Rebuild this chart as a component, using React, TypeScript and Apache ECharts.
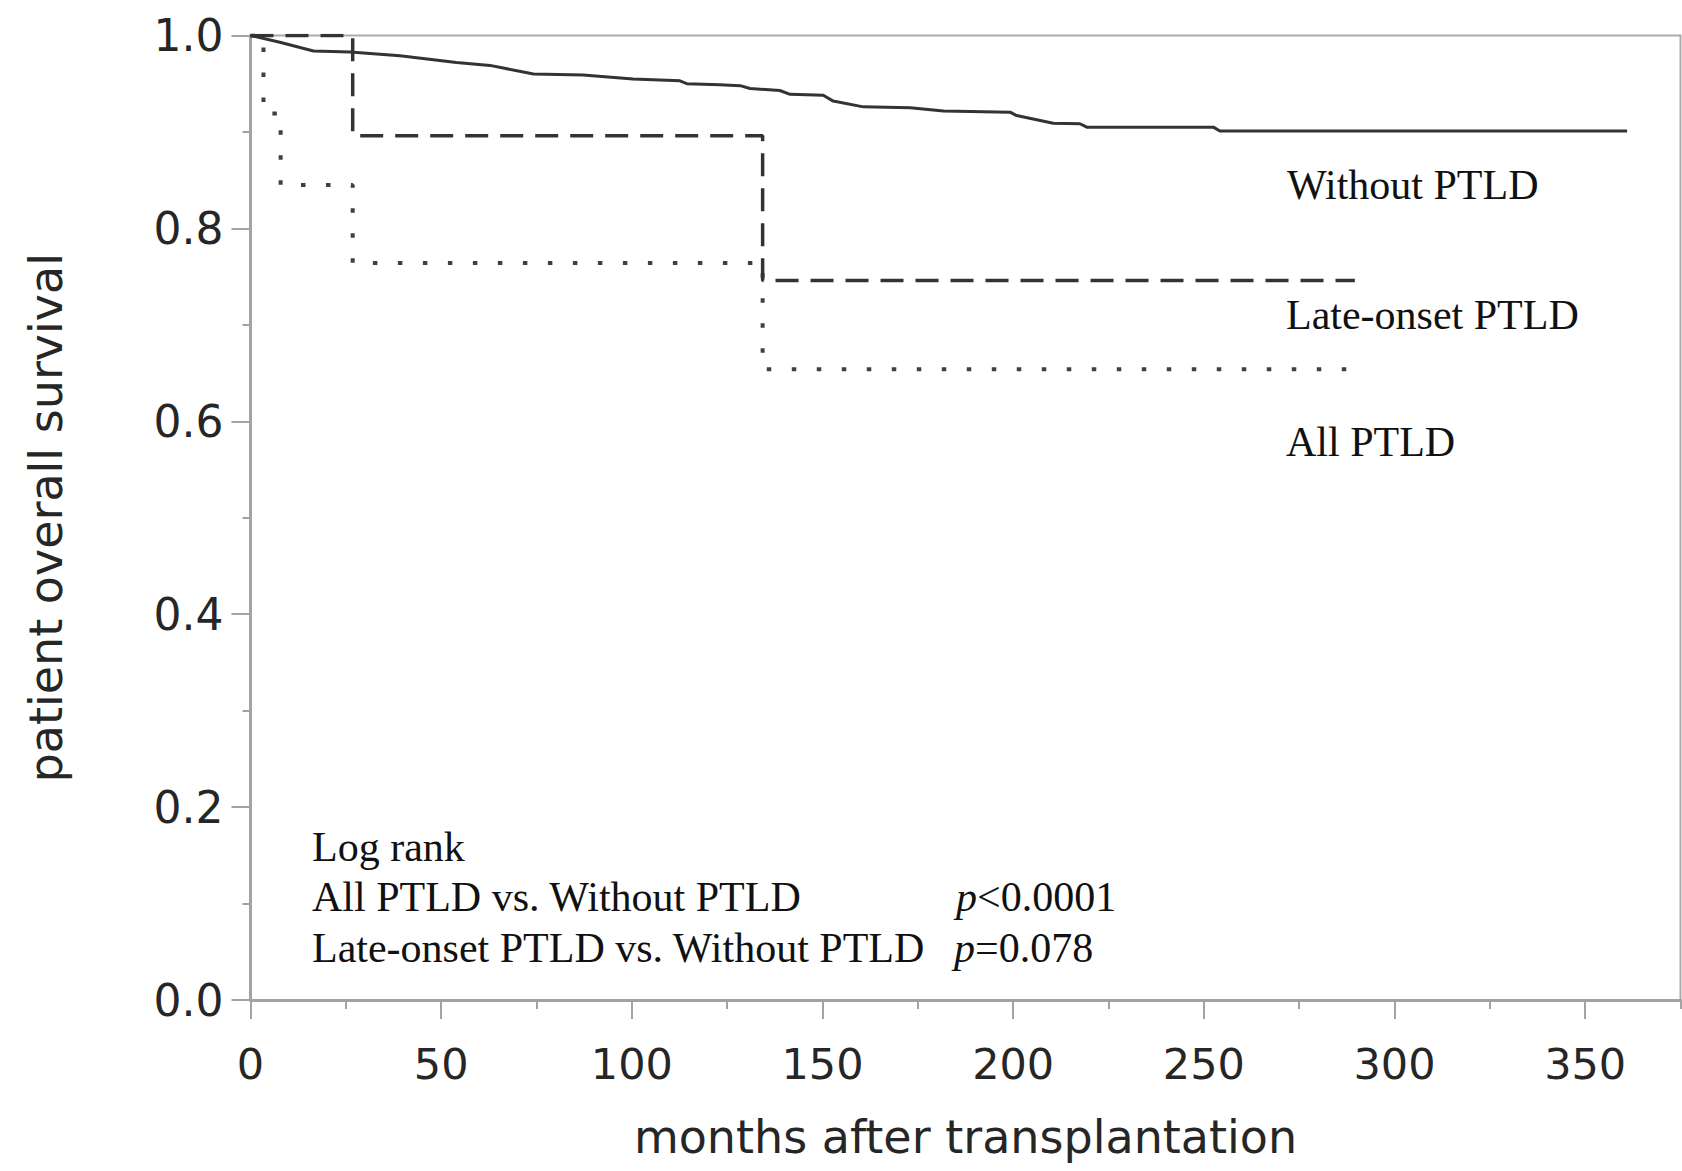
import React, { useEffect, useRef } from "react";
import * as echarts from "echarts";

// ---- data ----
const withoutTimes = [0, 7.7, 16.5, 26.1, 39.2, 54, 62.8, 74.2, 87.2, 100.3, 112.6, 114.4, 123, 128.4, 131, 138.8, 141.5, 150.2, 152.8, 160.7, 173, 181.7, 199.2, 200.9, 210.5, 217.5, 219.3, 252.5, 254.2, 361];
const withoutSurv = [1.0, 0.993, 0.984, 0.983, 0.979, 0.972, 0.969, 0.96, 0.959, 0.955, 0.953, 0.95, 0.949, 0.948, 0.945, 0.943, 0.939, 0.938, 0.932, 0.926, 0.925, 0.9216, 0.9205, 0.917, 0.909, 0.9085, 0.905, 0.905, 0.901, 0.901];

const lateTimes = [0, 26.8, 134.3, 289.6];
const lateSurv = [1.0, 0.896, 0.746, 0.746];

const allTimes = [0, 3.4, 7.9, 26.8, 134.3, 289.6];
const allSurv = [1.0, 0.919, 0.845, 0.764, 0.654, 0.654];

const yTicks = [0, 0.2, 0.4, 0.6, 0.8, 1.0];
const xTicks = [0, 50, 100, 150, 200, 250, 300, 350];

const curveLabels = ["Without PTLD", "Late-onset PTLD", "All PTLD"];
const logRankLines = ["Log rank", "All PTLD vs. Without PTLD", "Late-onset PTLD vs. Without PTLD"];
const pValues = ["<0.0001", "=0.078"];

const zip = (xs: number[], ys: number[]) => xs.map((x, i) => [x, ys[i]]);

const AXIS_GRAY = "#a3a3a3";
const TEXT = "#262626";

export default function App() {
  const ref = useRef<HTMLDivElement>(null);

  useEffect(() => {
    if (!ref.current) return;
    const chart = echarts.init(ref.current, undefined, { renderer: "svg" });
    const L = 250.5;
    const R = 1680.5;
    const pxPerUnit = (R - L) / 375;
    const right350 = 1682 - (L + 350 * pxPerUnit);

    const serif = "Liberation Serif, Times New Roman, serif";
    const option: any = {
      animation: false,
      backgroundColor: "#ffffff",
      grid: [
        { left: L, right: 1682 - R, top: 35.5, bottom: 171, show: true, borderColor: "#ababab", borderWidth: 2, backgroundColor: "transparent" },
        { left: L, right: right350, top: 35.5, bottom: 171, show: false },
      ],
      xAxis: [
        {
          type: "value",
          gridIndex: 0,
          min: 0,
          max: 375,
          interval: 25,
          axisLine: { show: true, lineStyle: { color: AXIS_GRAY, width: 3 } },
          axisTick: { show: true, length: 9, lineStyle: { color: AXIS_GRAY, width: 2 } },
          axisLabel: { show: false },
          splitLine: { show: false },
          name: "months after transplantation",
          nameLocation: "middle",
          nameGap: 114,
          nameTextStyle: { fontFamily: "DejaVu Sans", fontSize: 46, color: TEXT },
        },
        {
          type: "value",
          gridIndex: 1,
          min: xTicks[0],
          max: xTicks[xTicks.length - 1],
          interval: 50,
          axisLine: { show: false },
          axisTick: { show: true, length: 19, lineStyle: { color: AXIS_GRAY, width: 2 } },
          axisLabel: {
            show: true,
            margin: 42,
            fontFamily: "DejaVu Sans",
            fontSize: 43,
            color: TEXT,
            formatter: (v: number) => (xTicks.includes(v) ? String(v) : ""),
          },
          splitLine: { show: false },
        },
      ],
      yAxis: [
        {
          type: "value",
          gridIndex: 0,
          min: yTicks[0],
          max: yTicks[yTicks.length - 1],
          interval: 0.2,
          axisLine: { show: true, lineStyle: { color: AXIS_GRAY, width: 3 } },
          axisTick: { show: true, length: 19, lineStyle: { color: AXIS_GRAY, width: 2 } },
          minorTick: { show: true, splitNumber: 2, length: 8, lineStyle: { color: AXIS_GRAY, width: 2 } },
          axisLabel: {
            margin: 27,
            fontFamily: "DejaVu Sans",
            fontSize: 44,
            color: TEXT,
            formatter: (v: number) => v.toFixed(1),
          },
          splitLine: { show: false },
          name: "patient overall survival",
          nameLocation: "middle",
          nameGap: 182,
          nameTextStyle: { fontFamily: "DejaVu Sans", fontSize: 46, color: TEXT },
        },
        { type: "value", gridIndex: 1, min: 0, max: 1, show: false },
      ],
      series: [
        {
          name: curveLabels[2],
          type: "line",
          xAxisIndex: 0,
          yAxisIndex: 0,
          step: "end",
          data: zip(allTimes, allSurv),
          showSymbol: false,
          symbol: "none",
          lineStyle: { color: "#404040", width: 4, type: [4.5, 20.5], cap: "butt" },
          z: 3,
        },
        {
          name: curveLabels[1],
          type: "line",
          xAxisIndex: 0,
          yAxisIndex: 0,
          step: "end",
          data: zip(lateTimes, lateSurv),
          showSymbol: false,
          symbol: "none",
          lineStyle: { color: "#333333", width: 3.5, type: [23, 12] },
          z: 4,
        },
        {
          name: curveLabels[0],
          type: "line",
          xAxisIndex: 0,
          yAxisIndex: 0,
          data: zip(withoutTimes, withoutSurv),
          showSymbol: false,
          symbol: "none",
          lineStyle: { color: "#333333", width: 3 },
          z: 5,
        },
      ],
      graphic: [
        { type: "text", x: 1287, y: 185, style: { text: curveLabels[0], font: `42px ${serif}`, fill: "#111", textAlign: "left", textVerticalAlign: "middle" } },
        { type: "text", x: 1286, y: 315, style: { text: curveLabels[1], font: `42px ${serif}`, fill: "#111", textAlign: "left", textVerticalAlign: "middle" } },
        { type: "text", x: 1286, y: 442, style: { text: curveLabels[2], font: `42px ${serif}`, fill: "#111", textAlign: "left", textVerticalAlign: "middle" } },
        { type: "text", x: 312, y: 847, style: { text: logRankLines[0], font: `42px ${serif}`, fill: "#111", textAlign: "left", textVerticalAlign: "middle" } },
        { type: "text", x: 312, y: 897, style: { text: logRankLines[1], font: `42px ${serif}`, fill: "#111", textAlign: "left", textVerticalAlign: "middle" } },
        { type: "text", x: 312, y: 948, style: { text: logRankLines[2], font: `42px ${serif}`, fill: "#111", textAlign: "left", textVerticalAlign: "middle" } },
        {
          type: "text",
          x: 956,
          y: 897,
          style: {
            text: "{i|p}{n|" + pValues[0] + "}",
            textAlign: "left",
            textVerticalAlign: "middle",
            rich: {
              i: { fontFamily: serif, fontSize: 42, fontStyle: "italic", fill: "#111", color: "#111" },
              n: { fontFamily: serif, fontSize: 42, fill: "#111", color: "#111" },
            },
          },
        },
        {
          type: "text",
          x: 954,
          y: 948,
          style: {
            text: "{i|p}{n|" + pValues[1] + "}",
            textAlign: "left",
            textVerticalAlign: "middle",
            rich: {
              i: { fontFamily: serif, fontSize: 42, fontStyle: "italic", fill: "#111", color: "#111" },
              n: { fontFamily: serif, fontSize: 42, fill: "#111", color: "#111" },
            },
          },
        },
      ],
    };
    chart.setOption(option);
    return () => chart.dispose();
  }, []);

  return (
    <div
      ref={ref}
      style={{ position: "absolute", left: 0, top: 0, width: 1682, height: 1171, background: "#fff" }}
    />
  );
}
